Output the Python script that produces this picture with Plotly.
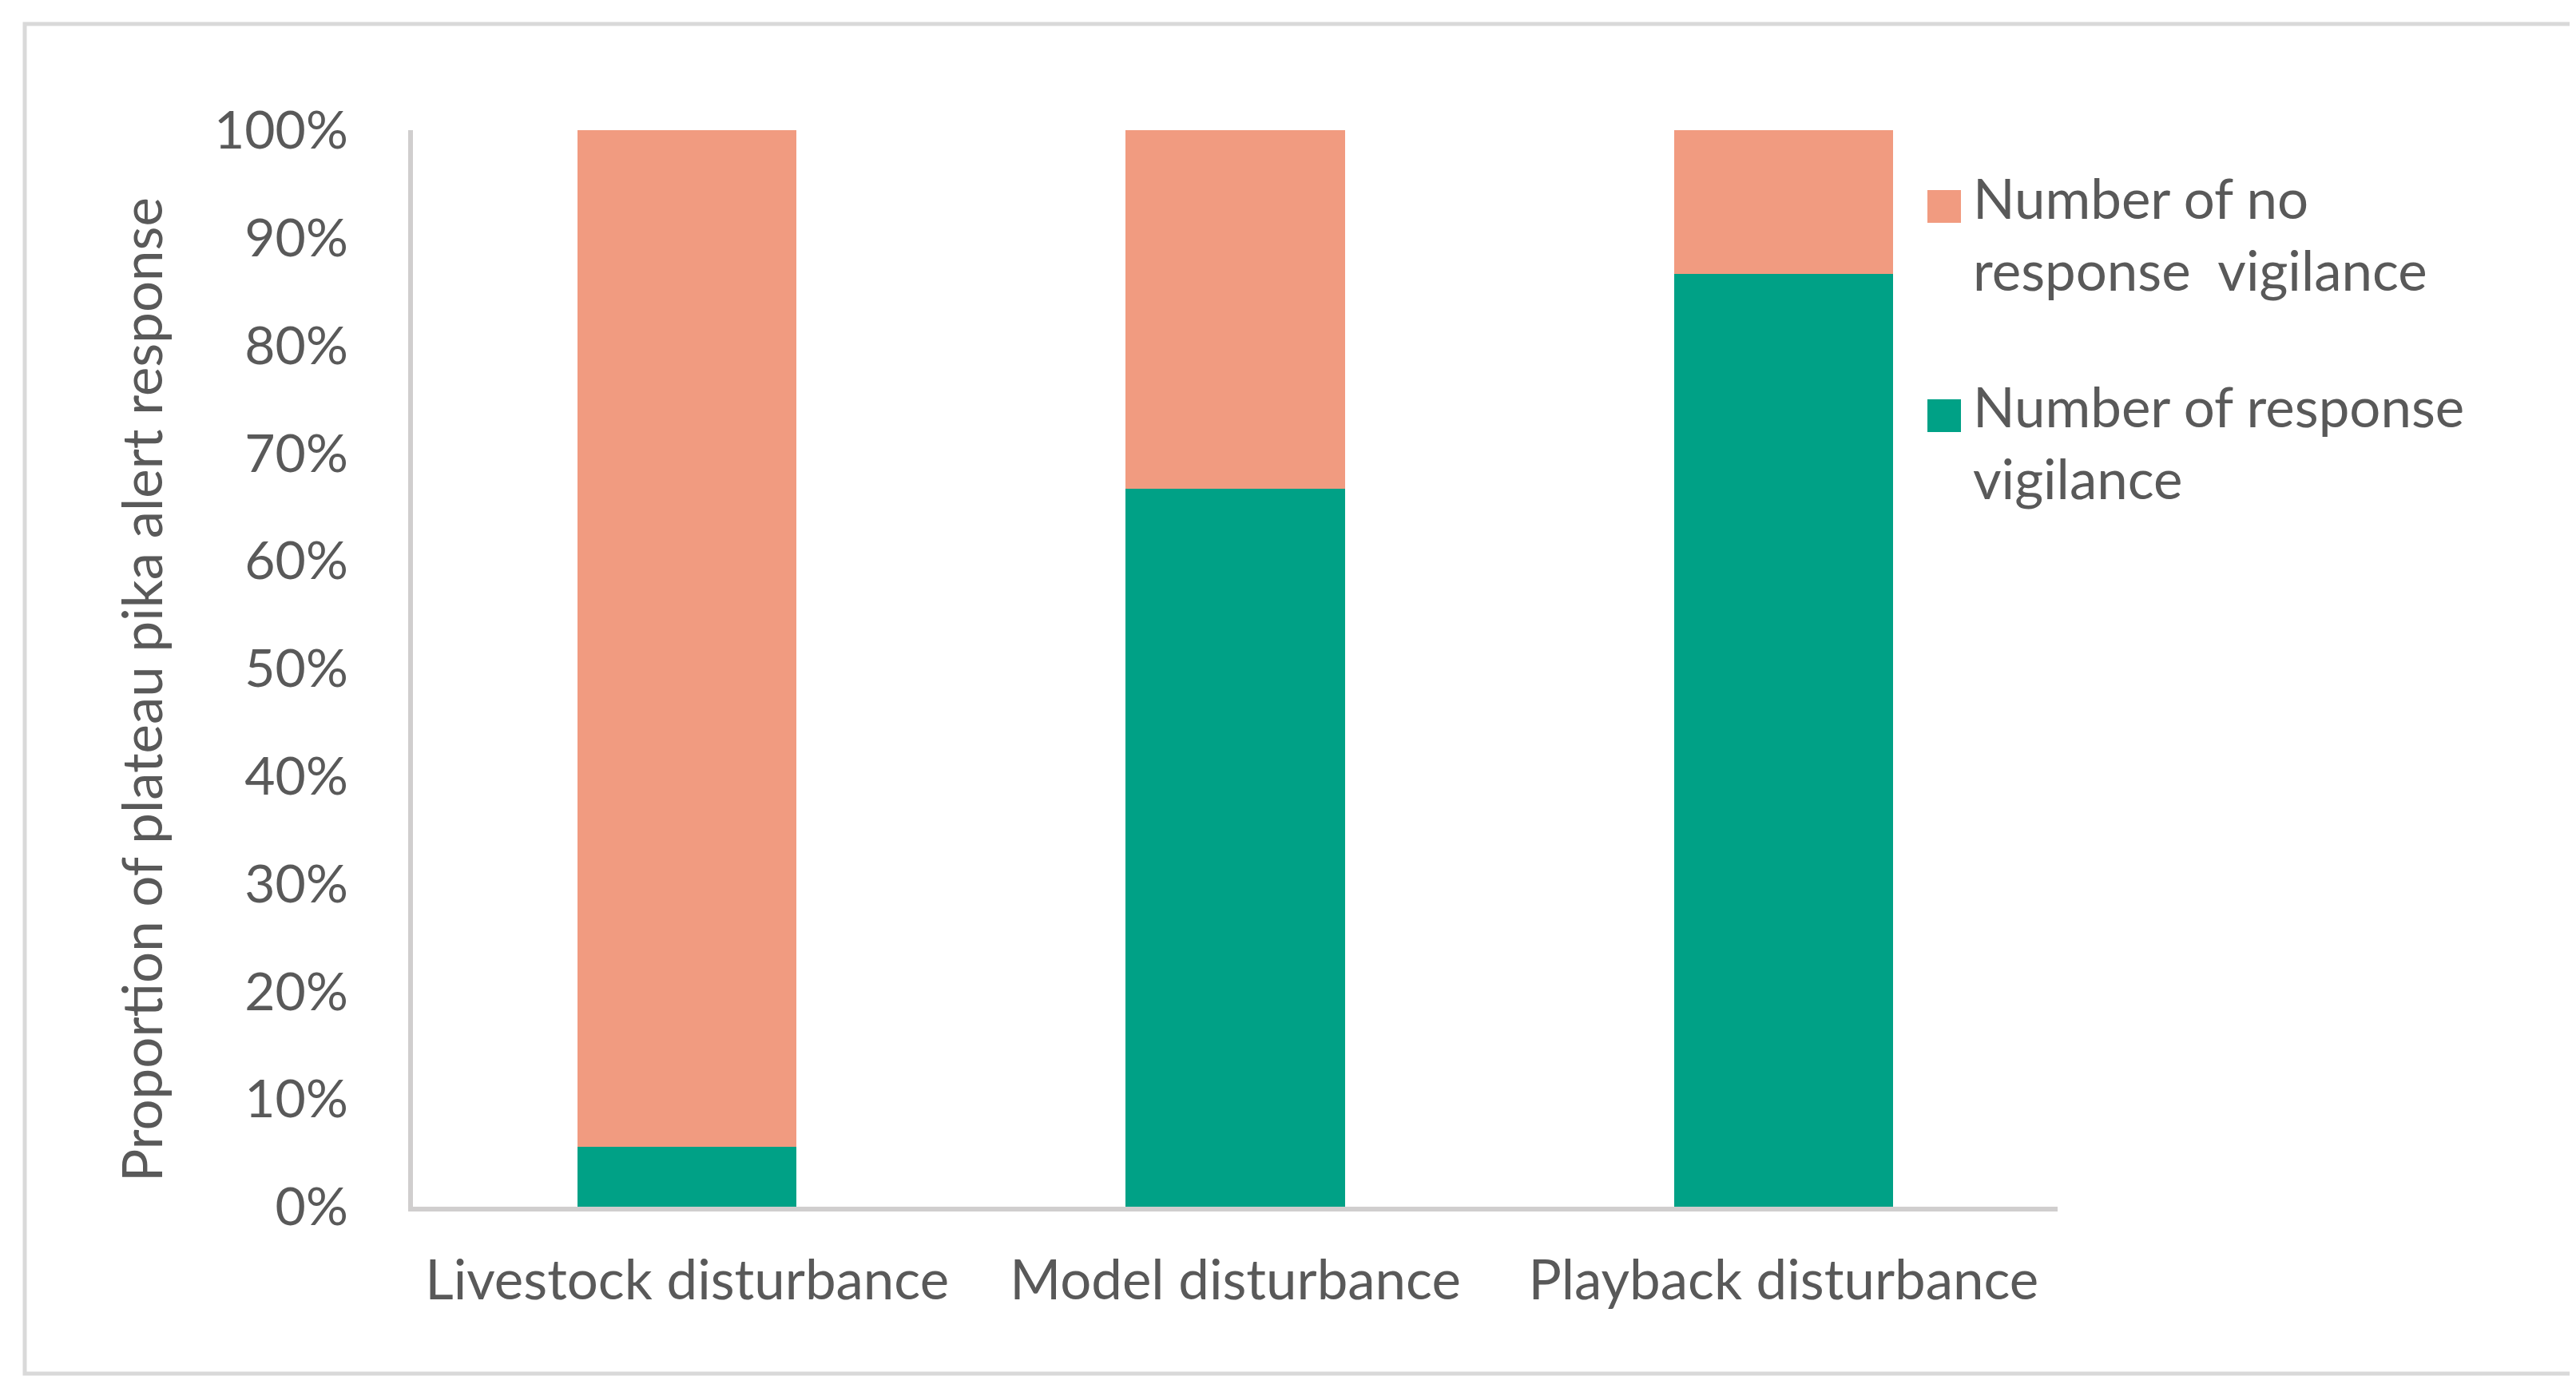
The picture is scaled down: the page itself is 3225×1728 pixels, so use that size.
import plotly.graph_objects as go

# ---- data ----
categories = ["Livestock disturbance", "Model disturbance", "Playback disturbance"]
response = [5.56, 66.67, 86.67]        # % Number of response vigilance
no_response = [94.44, 33.33, 13.33]    # % Number of no response vigilance
y_ticks = [0, 10, 20, 30, 40, 50, 60, 70, 80, 90, 100]
y_tick_labels = [f"{v}%" for v in y_ticks]
legend_names = ["Number of no<br>response  vigilance", "Number of response<br>vigilance"]
y_title = "Proportion of plateau pika alert response"

# ---- style ----
W, H = 3225, 1728
L, R, T, B = 509, 2568, 155, 1503   # plot area in pixels
C_ORANGE = "#F19B80"
C_GREEN = "#00A186"
C_TEXT = "#595959"
C_AXIS = "#D0CECE"
C_BORDER = "#D9D9D9"
FONT = "Lato"
FS_TICK = 66
FS = 69

def px(x):
    return (x - L) / (R - L)

def py(y):
    return (B - y) / (B - T)

fig = go.Figure()
fig.add_trace(go.Bar(x=categories, y=response, name="Number of response vigilance",
                     marker=dict(color=C_GREEN, line=dict(width=0))))
fig.add_trace(go.Bar(x=categories, y=no_response, name="Number of no response vigilance",
                     marker=dict(color=C_ORANGE, line=dict(width=0))))

shapes = [
    # outer chart border
    dict(type="rect", xref="paper", yref="paper", x0=px(23), x1=px(3214), y0=py(1712), y1=py(22),
         line=dict(color=C_BORDER, width=5), fillcolor="rgba(0,0,0,0)", layer="below"),
    # legend swatches
    dict(type="rect", xref="paper", yref="paper", x0=px(2405), x1=px(2447), y0=py(271), y1=py(230),
         line=dict(width=0), fillcolor=C_ORANGE),
    dict(type="rect", xref="paper", yref="paper", x0=px(2405), x1=px(2447), y0=py(533), y1=py(492),
         line=dict(width=0), fillcolor=C_GREEN),
]

annotations = [
    dict(text=legend_names[0], xref="paper", yref="paper", x=px(2460), y=py(284),
         xanchor="left", yanchor="middle", align="left", showarrow=False,
         font=dict(family=FONT, size=FS, color=C_TEXT)),
    dict(text=legend_names[1], xref="paper", yref="paper", x=px(2460), y=py(545),
         xanchor="left", yanchor="middle", align="left", showarrow=False,
         font=dict(family=FONT, size=FS, color=C_TEXT)),
    dict(text=y_title, xref="paper", yref="paper", x=px(168), y=py(856),
         xanchor="center", yanchor="middle", textangle=-90, showarrow=False,
         font=dict(family=FONT, size=FS, color=C_TEXT)),
]

fig.update_layout(
    width=W, height=H,
    margin=dict(l=L, r=W - R, t=T, b=H - B, pad=0),
    barmode="stack", bargap=0.6,
    paper_bgcolor="white", plot_bgcolor="white",
    showlegend=False,
    font=dict(family=FONT, size=FS, color=C_TEXT),
    shapes=shapes, annotations=annotations,
    xaxis=dict(showline=True, linecolor=C_AXIS, linewidth=6, showgrid=False,
               ticks="outside", ticklen=27, tickcolor="rgba(0,0,0,0)",
               tickfont=dict(family=FONT, size=FS, color=C_TEXT)),
    yaxis=dict(range=[0, 100], tickvals=y_ticks, ticktext=y_tick_labels,
               showline=True, linecolor=C_AXIS, linewidth=6, showgrid=False,
               ticks="outside", ticklen=62, tickcolor="rgba(0,0,0,0)",
               tickfont=dict(family=FONT, size=FS_TICK, color=C_TEXT), zeroline=False),
)

fig.write_html("out.html")
